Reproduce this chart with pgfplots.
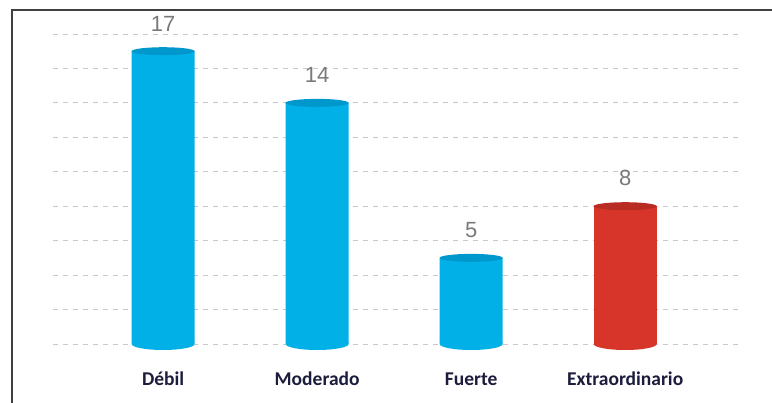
\documentclass[border=0pt]{standalone}
\usepackage{pgfplots}
\pgfplotsset{compat=1.18}
\usepackage{fontspec}
\setmainfont{Carlito}
\newfontfamily\arialfont{Liberation Sans}
\definecolor{cyanbar}{HTML}{00B0E6}
\definecolor{cyantop}{HTML}{0098CC}
\definecolor{redbar}{HTML}{D8352A}
\definecolor{redtop}{HTML}{B82C24}
\definecolor{labelnavy}{HTML}{1C1C3C}
\definecolor{valgray}{HTML}{7A7A7A}
\definecolor{gridgray}{HTML}{C8C8C8}
\pgfdeclareplotmark{topell}{\pgfpathellipse{\pgfpointorigin}{\pgfqpoint{31.5pt}{0pt}}{\pgfqpoint{0pt}{4pt}}\pgfusepathqfill}
\pgfdeclareplotmark{botell}{\pgfpathellipse{\pgfpointorigin}{\pgfqpoint{31.5pt}{0pt}}{\pgfqpoint{0pt}{6pt}}\pgfusepathqfill}
\pgfplotsset{valstyle/.style={nodes near coords={\arialfont\fontsize{22}{25}\selectfont\pgfmathprintnumber[assume math mode=true]{\pgfplotspointmeta}},
  every node near coord/.append style={text=valgray, anchor=south, inner sep=0pt, yshift=20pt}}}
\begin{document}
\begin{tikzpicture}
\begin{axis}[
  at={(53pt,59pt)}, anchor=south west,
  scale only axis, width=690pt, height=310pt,
  xmin=-0.715, xmax=3.765, ymin=0, ymax=18,
  axis line style={draw=none},
  major tick length=0pt,
  ytick={0,2,...,18}, yticklabels={},
  ymajorgrids,
  grid style={gridgray, dash pattern=on 5pt off 5pt, line width=0.8pt},
  xtick={0,1,2,3},
  xticklabels={Débil,Moderado,Fuerte,Extraordinario},
  xticklabel style={font=\fontsize{19.5}{22}\selectfont\bfseries, text=labelnavy, anchor=base, yshift=-42pt},
  clip=false,
]
\addplot[only marks, mark=botell, color=cyanbar] coordinates {(0,0) (1,0) (2,0)};
\addplot[only marks, mark=botell, color=redbar] coordinates {(3,0)};
\addplot[ybar, bar width=63pt, bar shift=0pt, fill=cyanbar, draw=none, valstyle]
  coordinates {(0,17) (1,14) (2,5)};
\addplot[ybar, bar width=63pt, bar shift=0pt, fill=redbar, draw=none, valstyle]
  coordinates {(3,8)};
\addplot[only marks, mark=topell, color=cyantop] coordinates {(0,17) (1,14) (2,5)};
\addplot[only marks, mark=topell, color=redtop] coordinates {(3,8)};
\end{axis}
\draw[line width=1.3pt, color=black!75] (12pt,-20pt) -- (12pt,393pt) -- (800pt,393pt);
\pgfresetboundingbox
\path[use as bounding box] (0,0) rectangle (772pt,403pt);
\end{tikzpicture}
\end{document}
